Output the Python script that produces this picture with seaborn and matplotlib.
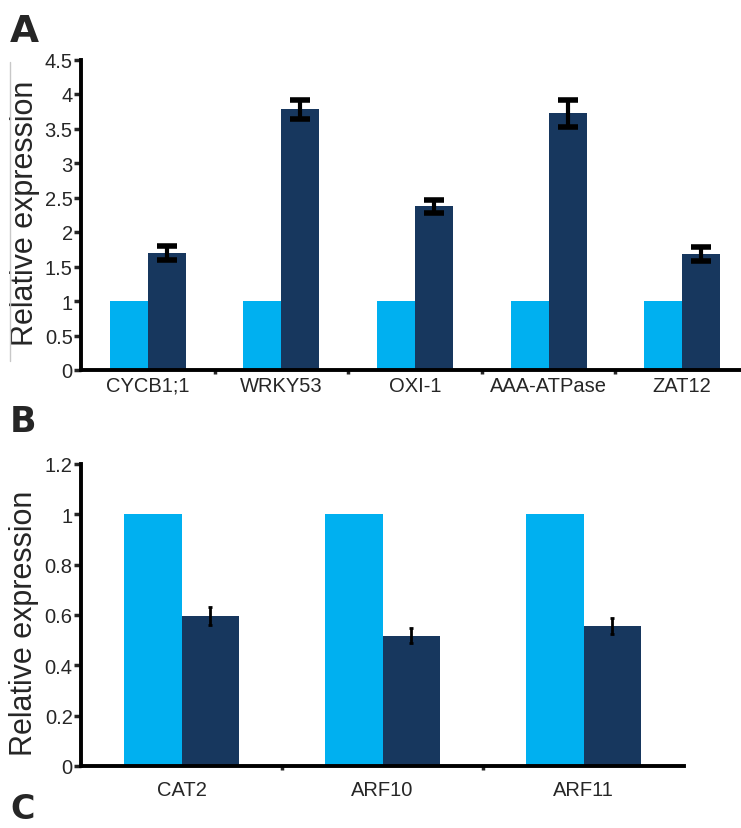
import matplotlib
matplotlib.use("Agg")
import matplotlib.pyplot as plt
import seaborn as sns
import pandas as pd
import numpy as np
from matplotlib.lines import Line2D

sns.set_style("white")
plt.rcParams['font.family'] = ['Liberation Sans', 'DejaVu Sans']

# ---- data ----
genes_a = ["CYCB1;1", "WRKY53", "OXI-1", "AAA-ATPase", "ZAT12"]
control_a = [1.0, 1.0, 1.0, 1.0, 1.0]
treated_a = [1.70, 3.78, 2.37, 3.72, 1.68]
treated_a_err = [0.10, 0.14, 0.10, 0.20, 0.10]

genes_b = ["CAT2", "ARF10", "ARF11"]
control_b = [1.0, 1.0, 1.0]
treated_b = [0.595, 0.518, 0.555]
treated_b_err = [0.035, 0.030, 0.032]

yticks_a = [0, 0.5, 1, 1.5, 2, 2.5, 3, 3.5, 4, 4.5]
yticklabels_a = ["0", "0.5", "1", "1.5", "2", "2.5", "3", "3.5", "4", "4.5"]
yticks_b = [0, 0.2, 0.4, 0.6, 0.8, 1.0, 1.2]
yticklabels_b = ["0", "0.2", "0.4", "0.6", "0.8", "1", "1.2"]

LIGHT = "#00b0f0"
DARK = "#17375e"

W, H = 741, 829
fig = plt.figure(figsize=(W / 100, H / 100), dpi=100)


def panel(rect, genes, ctrl, trt, err, yticks, yticklabels, ymax,
          tick_fs, xlab_fs, ylab_fs, ylab_xy, xpad, elw, capsize, capthick):
    ax = fig.add_axes(rect)
    df = pd.DataFrame({
        "gene": genes * 2,
        "value": list(ctrl) + list(trt),
        "cond": ["control"] * len(genes) + ["treated"] * len(genes),
    })
    sns.barplot(data=df, x="gene", y="value", hue="cond", order=genes,
                hue_order=["control", "treated"],
                palette=[LIGHT, DARK], width=0.57, errorbar=None,
                legend=False, ax=ax, saturation=1, linewidth=0)
    # error bars on treated bars
    bars = ax.containers[1]
    xs = [p.get_x() + p.get_width() / 2 for p in bars]
    ax.errorbar(xs, trt, yerr=err, fmt="none", ecolor="black",
                elinewidth=elw, capsize=capsize, capthick=capthick, zorder=5)
    ax.set_xlim(-0.5, len(genes) - 0.5)
    ax.set_ylim(0, ymax)
    ax.set_yticks(yticks)
    ax.set_yticklabels(yticklabels, fontsize=tick_fs)
    ax.set_xticks(range(len(genes)))
    ax.set_xticklabels(genes, fontsize=xlab_fs)
    ax.set_xticks(np.arange(0.5, len(genes) - 0.5, 1.0), minor=True)
    ax.tick_params(axis="x", which="major", length=0, pad=xpad)
    ax.tick_params(axis="x", which="minor", length=3, width=2.5,
                   direction="out", bottom=True)
    ax.tick_params(axis="y", which="major", length=5, width=2.5,
                   direction="out", left=True, pad=1)
    ax.set_xlabel("")
    ax.set_ylabel("Relative expression", fontsize=ylab_fs)
    ax.yaxis.set_label_coords(*ylab_xy)
    for s in ["top", "right"]:
        ax.spines[s].set_visible(False)
    for s in ["left", "bottom"]:
        ax.spines[s].set_linewidth(2.8)
        ax.spines[s].set_color("black")
    ax.set_facecolor("white")
    return ax


# Panel A
axA = panel([81 / W, (H - 371) / H, 668 / W, 310.5 / H],
            genes_a, control_a, treated_a, treated_a_err,
            yticks_a, yticklabels_a, 4.5,
            tick_fs=14.5, xlab_fs=14.5, ylab_fs=22,
            ylab_xy=((40 - 81) / 668, 0.507),
            xpad=4, elw=3, capsize=7.5, capthick=4)

# Panel B
axB = panel([81 / W, (H - 767) / H, 603 / W, 302 / H],
            genes_b, control_b, treated_b, treated_b_err,
            yticks_b, yticklabels_b, 1.2,
            tick_fs=14.5, xlab_fs=14.5, ylab_fs=22,
            ylab_xy=((39 - 81) / 603, 0.475),
            xpad=10, elw=2, capsize=1.5, capthick=2)

# thin grey guide line at far left of panel A
fig.add_artist(Line2D([10 / W, 10 / W], [(H - 362) / H, (H - 63) / H],
                      color="#c8c8c8", lw=1))

# panel letters
for letter, y, fs in [("A", 42, 27), ("B", 432, 25), ("C", 819, 24)]:
    fig.text(10 / W, 1 - y / H, letter, fontsize=fs, fontweight="bold",
             family=["DejaVu Sans"], va="baseline", ha="left")

fig.savefig("out.png", dpi=100, facecolor="white")
